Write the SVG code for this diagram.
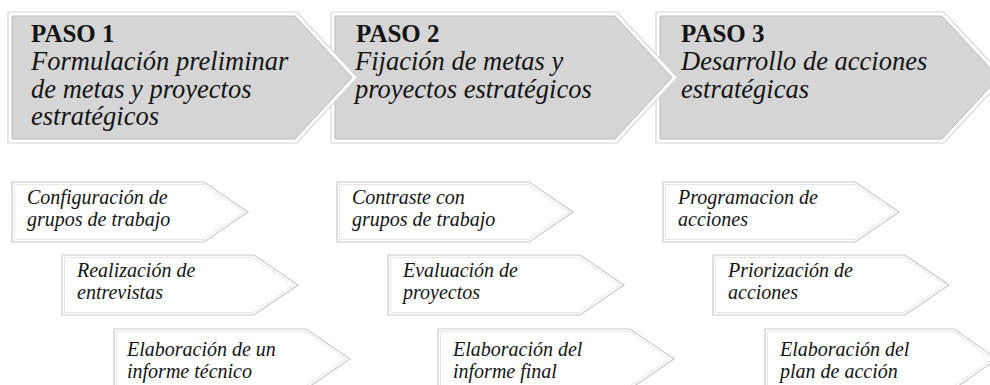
<svg xmlns="http://www.w3.org/2000/svg" width="990" height="385" viewBox="0 0 990 385">
<style>
.frame{fill:#ffffff;stroke:#d6d6d6;stroke-width:1.2}
.step{fill:#d5d5d5;stroke:#bcbcbc;stroke-width:1}
.box{fill:#ffffff;stroke:#c9c9c9;stroke-width:1.2}
.boxin{fill:none;stroke:#e6e6e6;stroke-width:1}
text{font-family:'Liberation Serif',Tinos,'Times New Roman','DejaVu Serif',serif;fill:#141414}
.h{font-size:25px;font-weight:bold}
.i{font-size:26.5px;font-style:italic}
.s{font-size:20px;font-style:italic}
</style>
<rect width="990" height="385" fill="#ffffff"/>
<g id="step3">
<path class="frame" d="M656,12 H943.8 L1004.5,77.5 L943.8,143 H656 Z"/>
<path class="step" d="M660,16 H942 L999,77.5 L942,139 H660 Z"/>
<text class="h" x="681" y="42">PASO 3</text>
<text class="i" x="681" y="70">Desarrollo de acciones</text>
<text class="i" x="681" y="97.5">estratégicas</text>
</g>
<g id="step2">
<path class="frame" d="M331,12 H616.8 L677.5,77.5 L616.8,143 H331 Z"/>
<path class="step" d="M335,16 H615 L672,77.5 L615,139 H335 Z"/>
<text class="h" x="356" y="42">PASO 2</text>
<text class="i" x="355" y="70">Fijación de metas y</text>
<text class="i" x="355" y="97.5">proyectos estratégicos</text>
</g>
<g id="step1">
<path class="frame" d="M8,12 H296.8 L357.5,77.5 L296.8,143 H8 Z"/>
<path class="step" d="M12,16 H295 L352,77.5 L295,139 H12 Z"/>
<text class="h" x="31" y="42">PASO 1</text>
<text class="i" x="31" y="70">Formulación preliminar</text>
<text class="i" x="31" y="97.5">de metas y proyectos</text>
<text class="i" x="31" y="125">estratégicos</text>
</g>
<g id="c1b1">
<path class="box" d="M12,182 H204 L248,212 L204,242 H12 Z"/>
<path class="boxin" d="M14.5,184.5 H203 L244,212 L203,239.5 H14.5 Z"/>
<text class="s" x="27" y="203.5">Configuración de</text>
<text class="s" x="27" y="226">grupos de trabajo</text>
</g>
<g id="c1b2">
<path class="box" d="M62,255 H254 L298,285 L254,315 H62 Z"/>
<path class="boxin" d="M64.5,257.5 H253 L294,285 L253,312.5 H64.5 Z"/>
<text class="s" x="77" y="276.5">Realización de</text>
<text class="s" x="77" y="299">entrevistas</text>
</g>
<g id="c1b3">
<path class="box" d="M114,329 H306 L350,359 L306,389 H114 Z"/>
<path class="boxin" d="M116.5,331.5 H305 L346,359 L305,386.5 H116.5 Z"/>
<text class="s" x="127" y="355.5">Elaboración de un</text>
<text class="s" x="127" y="378">informe técnico</text>
</g>
<g id="c2b1">
<path class="box" d="M337,182 H529 L573,212 L529,242 H337 Z"/>
<path class="boxin" d="M339.5,184.5 H528 L569,212 L528,239.5 H339.5 Z"/>
<text class="s" x="352" y="203.5">Contraste con</text>
<text class="s" x="352" y="226">grupos de trabajo</text>
</g>
<g id="c2b2">
<path class="box" d="M388,255 H580 L624,285 L580,315 H388 Z"/>
<path class="boxin" d="M390.5,257.5 H579 L620,285 L579,312.5 H390.5 Z"/>
<text class="s" x="403" y="276.5">Evaluación de</text>
<text class="s" x="403" y="299">proyectos</text>
</g>
<g id="c2b3">
<path class="box" d="M438,329 H630 L674,359 L630,389 H438 Z"/>
<path class="boxin" d="M440.5,331.5 H629 L670,359 L629,386.5 H440.5 Z"/>
<text class="s" x="453" y="355.5">Elaboración del</text>
<text class="s" x="453" y="378">informe final</text>
</g>
<g id="c3b1">
<path class="box" d="M663,182 H855 L899,212 L855,242 H663 Z"/>
<path class="boxin" d="M665.5,184.5 H854 L895,212 L854,239.5 H665.5 Z"/>
<text class="s" x="678" y="203.5">Programacion de</text>
<text class="s" x="678" y="226">acciones</text>
</g>
<g id="c3b2">
<path class="box" d="M713,255 H905 L949,285 L905,315 H713 Z"/>
<path class="boxin" d="M715.5,257.5 H904 L945,285 L904,312.5 H715.5 Z"/>
<text class="s" x="728" y="276.5">Priorización de</text>
<text class="s" x="728" y="299">acciones</text>
</g>
<g id="c3b3">
<path class="box" d="M765,329 H954 L997,359 L954,389 H765 Z"/>
<path class="boxin" d="M767.5,331.5 H953 L993,359 L953,386.5 H767.5 Z"/>
<text class="s" x="780" y="355.5">Elaboración del</text>
<text class="s" x="780" y="378">plan de acción</text>
</g>
<g id="connectors"></g>
</svg>
